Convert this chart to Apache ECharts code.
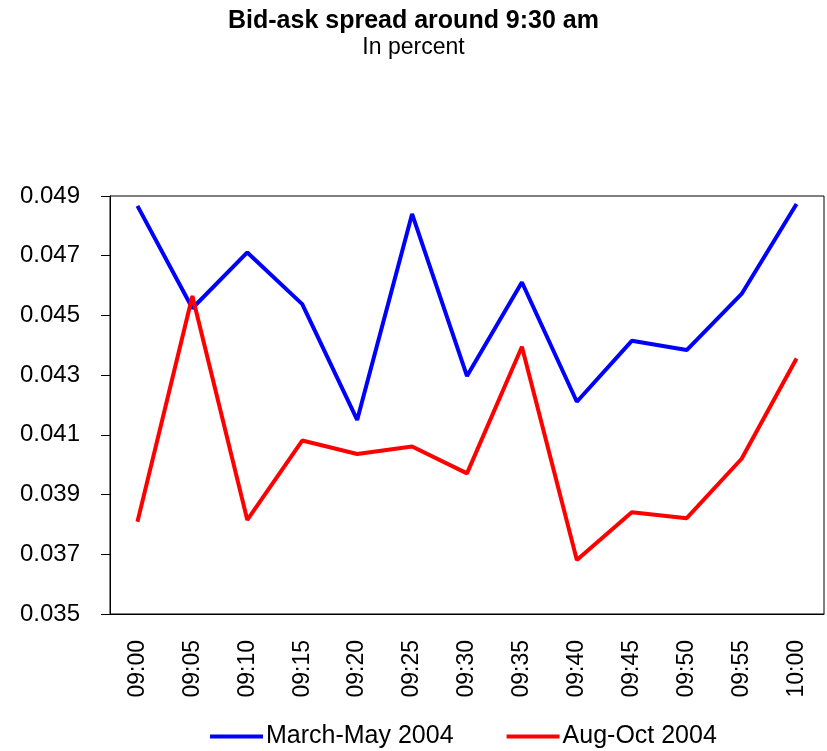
<!DOCTYPE html>
<html>
<head>
<meta charset="utf-8">
<script src="https://cdn.jsdelivr.net/npm/echarts@6/dist/echarts.min.js"></script>
<style>
  html, body { margin: 0; padding: 0; background: #fff; }
  #chart { width: 827px; height: 751px; }
</style>
</head>
<body>
<div id="chart"></div>
<script>
const times = ["09:00", "09:05", "09:10", "09:15", "09:20", "09:25", "09:30",
  "09:35", "09:40", "09:45", "09:50", "09:55", "10:00"];
const marchMay = [0.04867, 0.04524, 0.04711, 0.04538, 0.04150, 0.04840, 0.04297,
  0.04611, 0.04211, 0.04415, 0.04384, 0.04572, 0.04873];
const augOct = [0.03809, 0.04565, 0.03815, 0.04081, 0.04036, 0.04061, 0.03971,
  0.04395, 0.03681, 0.03841, 0.03821, 0.04020, 0.04356];
const yTicks = [0.035, 0.037, 0.039, 0.041, 0.043, 0.045, 0.047, 0.049];

const font = "Liberation Sans, Arial, sans-serif";
const myChart = echarts.init(document.getElementById("chart"));

const options = {
  animation: false,
  textStyle: { fontFamily: font },
  title: {
    text: "Bid-ask spread around 9:30 am",
    subtext: "In percent",
    left: "center",
    top: 4,
    itemGap: 2,
    textStyle: { fontFamily: font, fontSize: 25, fontWeight: "bold", color: "#000" },
    subtextStyle: { fontFamily: font, fontSize: 23, color: "#000" },
  },
  legend: {
    left: 205,
    top: 719,
    icon: "rect",
    itemWidth: 53,
    itemHeight: 4,
    itemGap: 53,
    textStyle: { fontFamily: font, fontSize: 25, color: "#000", padding: [0, 0, 0, -2] },
    data: ["March-May 2004", "Aug-Oct 2004"],
  },
  grid: {
    left: 110,
    top: 196,
    right: 3,
    bottom: 137,
    show: true,
    borderColor: "#000",
    borderWidth: 1,
    containLabel: false,
  },
  xAxis: {
    type: "category",
    data: times,
    boundaryGap: true,
    axisLine: { lineStyle: { color: "#000", width: 1 } },
    axisTick: { interval: 0, length: 8, lineStyle: { color: "#555" } },
    axisLabel: {
      interval: 0,
      rotate: 90,
      margin: 26,
      fontSize: 23,
      color: "#000",
      fontFamily: font,
    },
    splitLine: { show: false },
  },
  yAxis: {
    type: "value",
    min: 0.035,
    max: 0.049,
    axisLine: { show: true, lineStyle: { color: "#000", width: 1 } },
    axisTick: { show: true, length: 9, customValues: yTicks, lineStyle: { color: "#000" } },
    axisLabel: {
      customValues: yTicks,
      margin: 30,
      fontSize: 24,
      color: "#000",
      fontFamily: font,
      formatter: (v) => v.toFixed(3),
    },
    splitLine: { show: false },
  },
  series: [
    {
      name: "March-May 2004",
      type: "line",
      data: marchMay,
      showSymbol: false,
      symbol: "none",
      lineStyle: { color: "#0000ff", width: 4 },
      itemStyle: { color: "#0000ff" },
    },
    {
      name: "Aug-Oct 2004",
      type: "line",
      data: augOct,
      showSymbol: false,
      symbol: "none",
      lineStyle: { color: "#ff0000", width: 4 },
      itemStyle: { color: "#ff0000" },
    },
  ],
};

myChart.setOption(options);
</script>
</body>
</html>
